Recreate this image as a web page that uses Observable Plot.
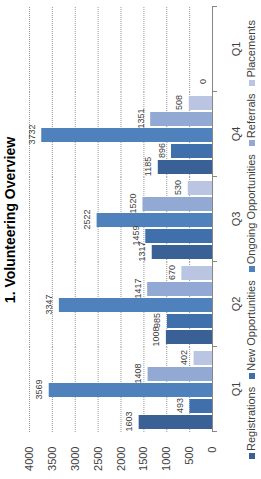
<!DOCTYPE html>
<html>
<head>
<meta charset="utf-8">
<script src="https://cdn.jsdelivr.net/npm/d3@7"></script>
<script src="https://cdn.jsdelivr.net/npm/@observablehq/plot@0.6"></script>
<style>
  html, body { margin: 0; padding: 0; background: #fff; }
  body { width: 261px; height: 479px; overflow: hidden; position: relative; }
  #wrap {
    position: absolute; left: 0; top: 0; width: 479px; height: 261px;
    transform-origin: 0 0; transform: translate(0px, 479px) rotate(-90deg);
    background: #fff; font-family: Arial, "Liberation Sans", sans-serif;
  }
  #title { height: 20px; line-height: 20px; font-weight: bold; font-size: 14px; color: #000;
    box-sizing: border-box; padding-left: 46px; padding-right: 7px; text-align: center; }
  #chart svg { display: block; }
  #legend { height: 19px; line-height: 19px; font-size: 11px; color: #404040; display: flex;
    justify-content: center; white-space: nowrap; }
  #legend .item { display: inline-flex; align-items: center; margin: 0 4px; }
  #legend .sw { display: inline-block; width: 6px; height: 6px; margin-right: 2px; }
</style>
</head>
<body>
<div id="wrap">
  <div id="title">1. Volunteering Overview</div>
  <div id="chart"></div>
  <div id="legend"></div>
</div>
<script>
const quarters = ["Q1", "Q2", "Q3", "Q4", "Q1"];
const series = ["Registrations", "New Opportunities", "Ongoing Opportunities", "Referrals", "Placements"];
const registrations = [1603, 1008, 1317, 1185, 0];
const newOpportunities = [493, 985, 1459, 896, null];
const ongoingOpportunities = [3569, 3347, 2522, 3732, null];
const referrals = [1408, 1417, 1520, 1351, null];
const placements = [402, 670, 530, 508, null];
const colors = ["#3a6196", "#3f70ac", "#4f81bd", "#92a9d4", "#b9c5e1"];
const yTicks = [0, 500, 1000, 1500, 2000, 2500, 3000, 3500, 4000];

const seriesValues = [registrations, newOpportunities, ongoingOpportunities, referrals, placements];
const rows = [];
quarters.forEach((q, i) => {
  series.forEach((s, j) => {
    const v = seriesValues[j][i];
    if (v !== null && v !== undefined) rows.push({q: i, series: s, value: v});
  });
});

const chart = Plot.plot({
  width: 479,
  height: 222,
  marginTop: 9,
  marginBottom: 30,
  marginLeft: 46,
  marginRight: 7,
  style: {fontFamily: "Arial, 'Liberation Sans', sans-serif", fontSize: "11px", background: "transparent", color: "#404040", overflow: "visible"},
  fx: {domain: d3.range(quarters.length), padding: 0, label: null, axis: null},
  x: {domain: series, padding: 0.1, axis: null},
  y: {domain: [0, 4000], axis: null},
  color: {domain: series, range: colors},
  marks: [
    Plot.ruleY(yTicks.filter(d => d > 0), {stroke: "#9a9a9a", strokeDasharray: "1,1", strokeWidth: 1}),
    Plot.barY(rows, {fx: "q", x: "series", y: "value", fill: "series"}),
    Plot.ruleY([0], {stroke: "#868686"}),
    Plot.frame({anchor: "left", stroke: "#868686", insetTop: 183, insetBottom: -4}),
    Plot.frame({anchor: "right", stroke: "#868686", insetTop: 183, insetBottom: -4}),
    Plot.text(rows, {fx: "q", x: "series", y: "value", text: d => String(d.value), lineAnchor: "bottom", dy: -7, fontSize: 9, fill: "#404040"}),
    Plot.axisY({ticks: yTicks, tickSize: 0, tickPadding: 15, tickFormat: d => String(d), fontSize: 11, fill: "#404040", label: null, line: true, stroke: "#868686"}),
    Plot.axisFx({anchor: "bottom", tickSize: 0, tickPadding: 20, tickFormat: i => quarters[i], fontSize: 11, fill: "#404040", label: null})
  ]
});
document.getElementById("chart").appendChild(chart);

const legend = document.getElementById("legend");
series.forEach((s, j) => {
  const item = document.createElement("span");
  item.className = "item";
  const sw = document.createElement("span");
  sw.className = "sw";
  sw.style.background = colors[j];
  item.appendChild(sw);
  item.appendChild(document.createTextNode(s));
  legend.appendChild(item);
});
</script>
</body>
</html>
